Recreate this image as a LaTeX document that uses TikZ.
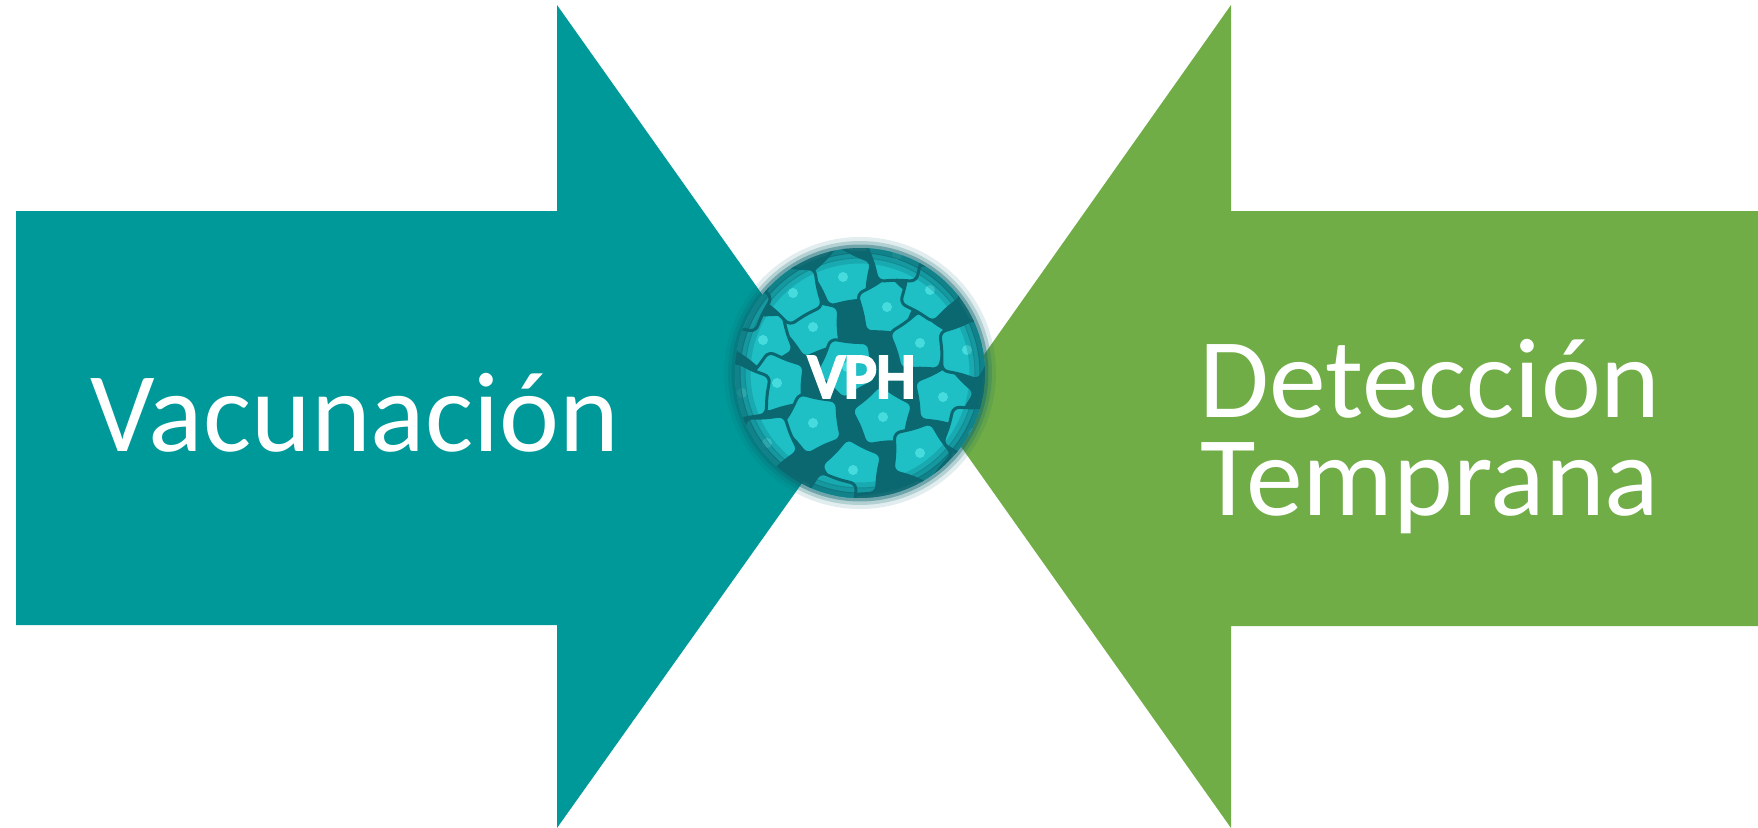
\documentclass[tikz,border=0pt]{standalone}
\usepackage{fontspec}
\setmainfont{Carlito}
\newfontfamily\vphfont{Carlito}[FakeBold=6]
\usetikzlibrary{shapes.geometric}
\definecolor{vacteal}{RGB}{0,153,153}
\definecolor{detgreen}{RGB}{112,173,71}
\definecolor{vphdark}{RGB}{12,104,112}
\definecolor{vphcyan}{RGB}{30,192,198}
\definecolor{vphlight}{RGB}{80,228,228}

\begin{document}
\begin{tikzpicture}[x=0.02cm,y=-0.02cm,
  armlabel/.style={text=white,font=\fontsize{64.7}{55.5}\selectfont,align=center,inner sep=0},
  capsid/.style={star,star points=5,star point ratio=1.3,minimum size=1.3cm,inner sep=0,fill=vphcyan,draw=vphdark,line width=0.06cm,rounded corners=0.12cm}]
 \useasboundingbox (0,0) rectangle (1758,828);
 % the two arrows
 \fill[vacteal](16,211)--(557,211)--(557,5)--(849,417)--(557,828)--(557,625)--(16,625)--cycle;
 \fill[detgreen](1758,211)--(1231,211)--(1231,5)--(940,417)--(1231,828)--(1231,626)--(1758,626)--cycle;
 \node[armlabel,anchor=base] (vac) at (355,451) {Vacunación};
 \node[armlabel,anchor=base] (det) at (1430,515) {Detección\\Temprana};
 % virus, soft rim first
 \coordinate (vir) at (860,373);
 \foreach \rr/\op in {2.72/.12,2.64/.22,2.57/.4,2.5/.7}
  \fill[vphdark,opacity=\op] (vir) circle (\rr cm);
 \fill[vphdark] (vir) circle (2.44cm);
 \begin{scope}
  \clip (vir) circle (2.5cm);
  \foreach \dx/\dy/\r in {-17/-96/10,27/-66/-5,-47/-46/20,-97/-33/35,60/-30/0,-83/10/15,-13/-6/30,83/24/-10,23/44/5,-47/50/25,-93/70/40,60/80/-20,-7/97/10,107/-23/-15,-67/-80/30,70/-83/-30,37/-118/0,113/60/-35,-118/20/12,-30/130/18,-120/-70/-8}{
   \node[capsid,rotate=\r] at ([shift={(\dx,\dy)}]vir) {};
   \fill[vphlight,opacity=.8] ([shift={(\dx,\dy)}]vir) circle (0.1cm);
  }
  \foreach \rr/\op in {2.45/.7,2.35/.45,2.25/.25}
   \draw[vphdark,opacity=\op,line width=0.12cm] (vir) circle (\rr cm);
 \end{scope}
 \node[text=white,font=\vphfont\fontsize{35.5}{40}\selectfont,inner sep=0,anchor=base] (vph) at (862,397) {VPH};
\end{tikzpicture}
\end{document}
